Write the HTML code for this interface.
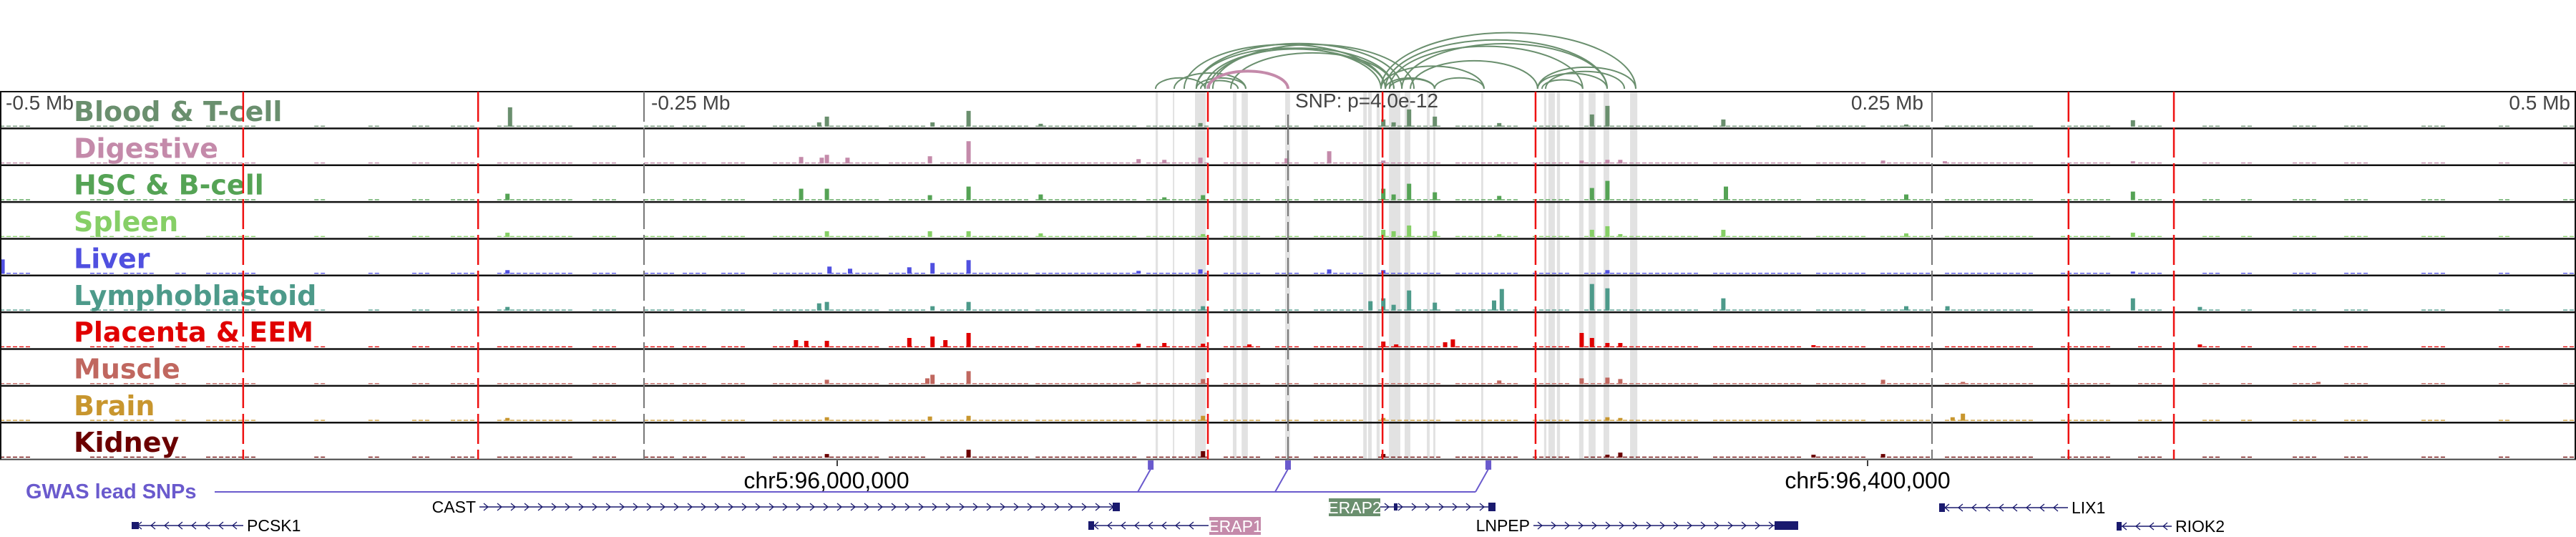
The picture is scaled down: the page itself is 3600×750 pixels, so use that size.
<!DOCTYPE html>
<html><head><meta charset="utf-8">
<style>
html,body{margin:0;padding:0;background:#fff;}
svg{display:block;font-family:"Liberation Sans",sans-serif;}
</style></head>
<body>
<svg id="chart" width="3600" height="750" viewBox="0 0 3600 750" xmlns="http://www.w3.org/2000/svg">
  <g id="arcs"></g>
  <g id="bands"></g>
  <g id="tracks"></g>
  <g id="vlines"></g>
  <g id="axis">
    <text x="8" y="153" font-size="28" fill="#444">-0.5 Mb</text>
    <text x="910" y="153" font-size="28" fill="#444">-0.25 Mb</text>
    <text x="1810" y="150" font-size="28" fill="#444">SNP: p=4.0e-12</text>
    <text x="2688" y="153" font-size="28" fill="#444" text-anchor="end">0.25 Mb</text>
    <text x="3592" y="153" font-size="28" fill="#444" text-anchor="end">0.5 Mb</text>
  </g>
  <g id="coord">
    <line x1="1170" y1="643" x2="1170" y2="651" stroke="#000" stroke-width="1.5"/>
    <text x="1155" y="682" font-size="32" text-anchor="middle">chr5:96,000,000</text>
    <line x1="2610" y1="643" x2="2610" y2="651" stroke="#000" stroke-width="1.5"/>
    <text x="2610" y="682" font-size="32" text-anchor="middle">chr5:96,400,000</text>
  </g>
  <g id="gwas">
    <text x="36" y="696" font-size="29" font-weight="bold" fill="#6a5acd">GWAS lead SNPs</text>
  </g>
  <g id="genes"></g>
</svg>
<script>
// ---- data ----
const trackNames = ["Blood & T-cell","Digestive","HSC & B-cell","Spleen","Liver","Lymphoblastoid","Placenta & EEM","Muscle","Brain","Kidney"];
const trackColors = ["#6a8f6e","#c48aaa","#55a355","#86cf66","#5050e0","#4d9a8a","#e00000","#c0675f","#c8962e","#6b0000"];
// background low-signal segments [startKb, endKb]
const bgSegments = [[-500,-488],[-465,-455],[-452,-440],[-432,-428],[-420,-402],[-378,-375],[-357,-352],[-340,-333],[-325,-317],[-307,-278],[-270,-260],[-250,-238],[-235,-225],[-220,-210],[-200,-182],[-178,-160],[-155,-140],[-135,-100],[-98,-60],[-55,-30],[-25,-12],[-5,5],[10,30],[35,60],[65,90],[95,110],[115,160],[165,200],[205,225],[230,250],[255,290],[300,320],[330,340],[355,362],[370,375],[390,400],[410,420],[440,448],[470,475],[495,500]];
// peaks per track: [kb, height]
const peaksBlood = [[-302,27],[-179,14],[-182,6],[-124,22],[-138,6],[-96,4],[-34,5],[37,10],[41,6],[47,24],[57,14],[82,5],[118,17],[124,29],[169,10],[240,3],[328,9]];
const peaksDigestive = [[-171,8],[-179,12],[-181,8],[-189,9],[-124,31],[-139,10],[-58,6],[-48,5],[-34,8],[-0.5,7],[16,17],[37,4],[114,4],[124,5],[129,5],[231,4],[255,3],[328,3]];
const peaksHSC = [[-303,9],[-179,16],[-189,16],[-124,19],[-139,7],[-96,8],[-33,7],[-48,4],[37,16],[41,8],[47,23],[57,11],[82,6],[118,17],[124,27],[170,19],[240,8],[328,12]];
const peaksSpleen = [[-303,6],[-179,8],[-124,8],[-139,8],[-96,5],[-33,4],[37,10],[41,8],[47,16],[57,8],[82,4],[118,10],[124,15],[129,4],[169,10],[240,5],[328,6]];
const peaksLiver = [[-499,20],[-303,5],[-178,10],[-170,7],[-147,9],[-138,15],[-124,19],[-34,6],[-58,4],[16,6],[37,5],[124,5],[328,3]];
const peaksLympho = [[-303,5],[-179,12],[-182,10],[-124,12],[-138,6],[-33,6],[32,13],[37,17],[41,8],[47,28],[57,11],[83,30],[80,14],[118,37],[124,31],[169,17],[240,6],[256,6],[328,17],[354,5]];
const peaksPlacenta = [[-179,9],[-187,9],[-191,10],[-147,13],[-138,15],[-124,20],[-133,10],[-58,5],[-48,6],[-33,5],[-15,4],[37,8],[42,4],[64,11],[61,7],[114,20],[118,13],[124,6],[129,6],[204,3],[354,4]];
const peaksMuscle = [[-124,18],[-138,13],[-140,8],[-179,6],[-33,7],[-58,3],[82,5],[114,8],[124,9],[129,7],[231,6],[262,3],[400,3]];
const peaksBrain = [[-124,7],[-139,6],[-179,5],[-303,4],[-33,7],[37,4],[124,5],[129,4],[262,10],[258,5]];
const peaksKidney = [[-124,11],[-179,5],[-33,9],[37,5],[124,4],[129,7],[204,4],[231,5]];
const trackPeaks = [peaksBlood,peaksDigestive,peaksHSC,peaksSpleen,peaksLiver,peaksLympho,peaksPlacenta,peaksMuscle,peaksBrain,peaksKidney];
// highlight bands [startKb,endKb]
const bandRanges = [[-51.4,-50.5],[-44.7,-44.2],[-36.1,-31.9],[-21.4,-20],[-18,-15.6],[-1.1,0.8],[29.2,30.6],[31.1,32.5],[34.4,35.6],[39.2,43.6],[45.3,47.5],[53.9,55],[56.4,57.2],[75,75.8],[99.4,100.3],[101.1,103.6],[104.4,105.6],[113,114.7],[116.7,119.4],[122.5,124.7],[132.8,135.6]];
const redLines = [-405.6,-314.4,-31.1,36.7,96.1,303,343.9];
const greyLines = [-250,0,250];
// loops [startKb,endKb]
const loopStarts = [-51.4,-44.2,-40.3,-35.6,-35.6,-32.2,-30.6,-29.2,-35.6,-33.9,-22.2,36.1,36.1,37.8,39.4,44.2,47.5,37.8,39.4,56.9,96.9,96.9,98.6,100];
const loopEnds   = [-32.2,-16.4,37.8,36.1,44.2,37.8,41.1,48.9,-16.4,-19.4,41.1,76.1,135,123.9,114.4,123.9,96.9,56.9,56.9,76.1,135,123.9,114.4,130.6];
const snpLoop = [-31.1,0];
const gwasSnps = [-53.3,0,77.8];

// ---- scales ----
const NS="http://www.w3.org/2000/svg";
const X = kb => 1800 + kb*3.6;
const TOP=128, TH=51.36, NT=10;
const trackTop = i => TOP + i*TH;
function mk(tag, attrs, parent){const e=document.createElementNS(NS,tag);for(const k in attrs)e.setAttribute(k,attrs[k]);parent.appendChild(e);return e;}

// bands
const bandsG=document.getElementById('bands');
bandRanges.forEach(b=>{
  const r=mk('rect',{x:X(b[0]),y:TOP,width:Math.max(2,X(b[1])-X(b[0])),height:TH*NT,fill:'#e2e2e2'},bandsG);
  
  
});

// tracks
const tracksG=document.getElementById('tracks');
for(let i=0;i<NT;i++){
  const g=mk('g',{},tracksG);
  
  
  const base=trackTop(i)+TH-2.5;
  bgSegments.forEach(s=>{
    for(let x=X(s[0]);x<X(s[1]);x+=9){
      mk('rect',{x:x,y:base-1.3,width:6,height:1.3,fill:trackColors[i]},g);
    }
  });
  trackPeaks[i].forEach(p=>{
    const bar=mk('rect',{x:X(p[0])-3,y:base-p[1],width:6,height:p[1],fill:trackColors[i]},g);
    
    
  });
  const t=mk('text',{x:103,y:trackTop(i)+41,'font-size':38,'font-weight':'bold','font-family':'"DejaVu Sans",sans-serif',fill:trackColors[i]},g);
  t.textContent=trackNames[i];
  
  
  mk('line',{x1:0,x2:3600,y1:trackTop(i),y2:trackTop(i),stroke:'#111','stroke-width':i===0?2:2.5},g);
}
mk('line',{x1:0,x2:3600,y1:TOP+TH*NT,y2:TOP+TH*NT,stroke:'#444','stroke-width':2},tracksG);
mk('line',{x1:1,x2:1,y1:TOP,y2:TOP+TH*NT,stroke:'#111','stroke-width':2},tracksG);
mk('line',{x1:3599,x2:3599,y1:TOP,y2:TOP+TH*NT,stroke:'#111','stroke-width':2},tracksG);

// vertical marker lines
const vG=document.getElementById('vlines');
redLines.forEach(k=>{
  const l=mk('line',{x1:X(k),x2:X(k),y1:TOP,y2:TOP+TH*NT,stroke:'#ee1111','stroke-width':2.5,'stroke-dasharray':'42 8'},vG);
  
  
});
greyLines.forEach(k=>{
  const l=mk('line',{x1:X(k),x2:X(k),y1:k===0?160:TOP,y2:TOP+TH*NT,stroke:'#777','stroke-width':2,'stroke-dasharray':'42 8'},vG);
  
  
});

// arcs
const arcsG=document.getElementById('arcs');
function arcPath(a,b){const x1=X(a),x2=X(b),w=x2-x1,h=w*0.22,y=124;return `M${x1},${y} A${w/2},${h} 0 0 1 ${x2},${y}`;}
for(let i=0;i<loopStarts.length;i++){
  const p=mk('path',{d:arcPath(loopStarts[i],loopEnds[i]),fill:'none',stroke:'#6a8f6e','stroke-width':2},arcsG);
  
  
}
{
  const p=mk('path',{d:arcPath(snpLoop[0],snpLoop[1]),fill:'none',stroke:'#c48aaa','stroke-width':4},arcsG);
  
  
}

// GWAS
const gG=document.getElementById('gwas');
mk('line',{x1:300,x2:X(gwasSnps[2])-18,y1:687,y2:687,stroke:'#6a5acd','stroke-width':2},gG);
gwasSnps.forEach(k=>{
  const x=X(k);
  mk('line',{x1:x-18,y1:687,x2:x,y2:655,stroke:'#6a5acd','stroke-width':2},gG);
  const m=mk('rect',{x:x-4,y:643,width:8,height:13,fill:'#6a5acd'},gG);
  
  
});

// genes
const genesG=document.getElementById('genes');
function gene(name,x1,x2,y,strand,labelSide,exons,boxColor,boxX){
  const g=mk('g',{},genesG);
  
  
  mk('line',{x1:x1,x2:x2,y1:y,y2:y,stroke:'#1a1a6e','stroke-width':1.5},g);
  for(let x=x1+10;x<x2-8;x+=19){
    const d=strand>0?`M${x-4},${y-5} L${x+2},${y} L${x-4},${y+5}`:`M${x+4},${y-5} L${x-2},${y} L${x+4},${y+5}`;
    mk('path',{d:d,fill:'none',stroke:'#1a1a6e','stroke-width':1.3},g);
  }
  exons.forEach(e=>mk('rect',{x:e[0],y:y-e[2]/2,width:e[1]-e[0],height:e[2],fill:'#1a1a6e'},g));
  if(boxColor){
    mk('rect',{x:boxX,y:y-12,width:72,height:25,fill:boxColor},g);
    const t=mk('text',{x:boxX+36,y:y+9,'font-size':23,'text-anchor':'middle',fill:'#fff'},g);t.textContent=name;
  } else {
    const t=mk('text',{x:labelSide==='left'?x1-5:x2+5,y:y+8,'font-size':23,'text-anchor':labelSide==='left'?'end':'start'},g);t.textContent=name;
  }
}
gene('CAST',670,1565,708,1,'left',[[1555,1565,12]]);
gene('ERAP2',1929,2090,708,1,'box',[[1948,1953,10],[2080,2090,12]],'#6a8f6e',1857);
gene('LIX1',2710,2890,709,-1,'right',[[2710,2718,12]]);
gene('PCSK1',184,340,734,-1,'right',[[184,194,10]]);
gene('ERAP1',1521,1689,734,-1,'box',[[1521,1529,12]],'#c48aaa',1690);
gene('LNPEP',2143,2513,734,1,'left',[[2480,2513,12]]);
gene('RIOK2',2958,3035,735,-1,'right',[[2958,2965,12]]);
</script>
</body></html>
